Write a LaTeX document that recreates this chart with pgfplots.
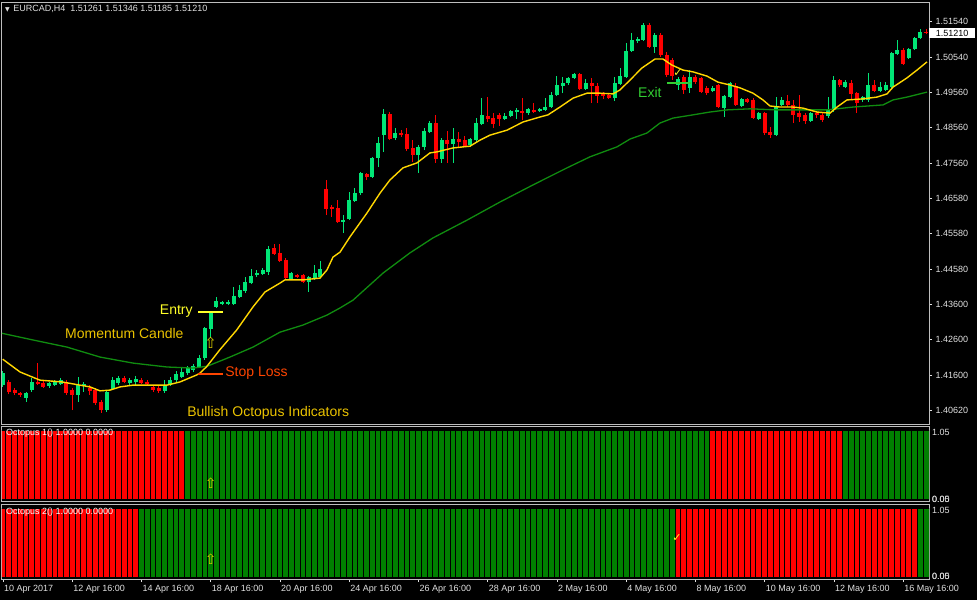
\documentclass[border=0pt]{standalone}
\usepackage{pgfplots}
\pgfplotsset{compat=1.18}
\usepackage{pgfplotstable}
\usepackage{fontspec}
\setmainfont{Liberation Sans}
\newfontfamily\dejavu{DejaVu Sans}

\definecolor{bull}{RGB}{0,230,118}
\definecolor{bear}{RGB}{255,0,0}
\definecolor{maf}{RGB}{255,215,0}
\definecolor{mas}{RGB}{16,140,16}
\definecolor{hgreen}{RGB}{0,128,0}
\definecolor{frame}{RGB}{190,190,190}
\definecolor{lbl}{RGB}{225,225,225}
\definecolor{gold}{RGB}{235,195,0}
\definecolor{entryc}{RGB}{255,255,40}
\definecolor{stopc}{RGB}{255,69,0}
\definecolor{exitc}{RGB}{50,205,50}
\definecolor{arrowc}{RGB}{215,200,0}

% EURCAD H4: bar index, open, high, low, close, Octopus 1 up/down, Octopus 2 up/down
\pgfplotstableread{
i o h l c u1 d1 u2 d2
0 1.4132 1.4172 1.4127 1.4166 0 1 0 1
1 1.4141 1.4146 1.4107 1.4113 0 1 0 1
2 1.4118 1.4124 1.4104 1.4110 0 1 0 1
3 1.4110 1.4113 1.4099 1.4104 0 1 0 1
4 1.4096 1.4113 1.4085 1.4110 0 1 0 1
5 1.4118 1.4152 1.4113 1.4141 0 1 0 1
6 1.4141 1.4194 1.4132 1.4135 0 1 0 1
7 1.4138 1.4146 1.4124 1.4127 0 1 0 1
8 1.4130 1.4141 1.4124 1.4138 0 1 0 1
9 1.4132 1.4146 1.4130 1.4141 0 1 0 1
10 1.4135 1.4152 1.4132 1.4146 0 1 0 1
11 1.4138 1.4146 1.4104 1.4110 0 1 0 1
12 1.4118 1.4124 1.4062 1.4104 0 1 0 1
13 1.4104 1.4155 1.4085 1.4132 0 1 0 1
14 1.4130 1.4141 1.4113 1.4135 0 1 0 1
15 1.4124 1.4132 1.4104 1.4116 0 1 0 1
16 1.4118 1.4124 1.4076 1.4082 0 1 0 1
17 1.4085 1.4090 1.4054 1.4062 0 1 0 1
18 1.4062 1.4118 1.4057 1.4113 0 1 0 1
19 1.4121 1.4155 1.4118 1.4146 0 1 0 1
20 1.4138 1.4158 1.4132 1.4152 0 1 0 1
21 1.4152 1.4158 1.4138 1.4141 0 1 0 1
22 1.4138 1.4152 1.4132 1.4146 0 1 0 1
23 1.4141 1.4158 1.4130 1.4149 0 1 0 1
24 1.4146 1.4152 1.4135 1.4138 0 1 1 0
25 1.4141 1.4146 1.4130 1.4135 0 1 1 0
26 1.4127 1.4132 1.4113 1.4118 0 1 1 0
27 1.4124 1.4130 1.4110 1.4116 0 1 1 0
28 1.4116 1.4146 1.4110 1.4130 0 1 1 0
29 1.4132 1.4155 1.4130 1.4146 0 1 1 0
30 1.4146 1.4172 1.4141 1.4163 0 1 1 0
31 1.4155 1.4180 1.4152 1.4169 0 1 1 0
32 1.4166 1.4186 1.4161 1.4180 1 0 1 0
33 1.4175 1.4191 1.4169 1.4186 1 0 1 0
34 1.4183 1.4217 1.4180 1.4208 1 0 1 0
35 1.4208 1.4295 1.4203 1.4293 1 0 1 0
36 1.4290 1.4338 1.4265 1.4335 1 0 1 0
37 1.4352 1.4380 1.4349 1.4369 1 0 1 0
38 1.4360 1.4369 1.4357 1.4366 1 0 1 0
39 1.4360 1.4371 1.4357 1.4366 1 0 1 0
40 1.4360 1.4408 1.4357 1.4383 1 0 1 0
41 1.4380 1.4414 1.4377 1.4400 1 0 1 0
42 1.4397 1.4436 1.4391 1.4422 1 0 1 0
43 1.4419 1.4459 1.4416 1.4439 1 0 1 0
44 1.4442 1.4456 1.4436 1.4447 1 0 1 0
45 1.4445 1.4461 1.4442 1.4456 1 0 1 0
46 1.4450 1.4523 1.4442 1.4515 1 0 1 0
47 1.4518 1.4529 1.4498 1.4501 1 0 1 0
48 1.4504 1.4529 1.4478 1.4481 1 0 1 0
49 1.4484 1.4490 1.4431 1.4433 1 0 1 0
50 1.4431 1.4450 1.4428 1.4447 1 0 1 0
51 1.4442 1.4445 1.4433 1.4436 1 0 1 0
52 1.4442 1.4445 1.4419 1.4422 1 0 1 0
53 1.4422 1.4439 1.4394 1.4436 1 0 1 0
54 1.4433 1.4470 1.4428 1.4447 1 0 1 0
55 1.4436 1.4481 1.4433 1.4459 1 0 1 0
56 1.4684 1.4709 1.4610 1.4627 1 0 1 0
57 1.4633 1.4639 1.4605 1.4627 1 0 1 0
58 1.4630 1.4653 1.4588 1.4591 1 0 1 0
59 1.4591 1.4610 1.4560 1.4596 1 0 1 0
60 1.4599 1.4675 1.4596 1.4653 1 0 1 0
61 1.4650 1.4686 1.4647 1.4672 1 0 1 0
62 1.4672 1.4731 1.4667 1.4729 1 0 1 0
63 1.4726 1.4729 1.4709 1.4717 1 0 1 0
64 1.4717 1.4774 1.4715 1.4771 1 0 1 0
65 1.4771 1.4830 1.4745 1.4813 1 0 1 0
66 1.4835 1.4909 1.4788 1.4894 1 0 1 0
67 1.4894 1.4900 1.4821 1.4824 1 0 1 0
68 1.4827 1.4855 1.4821 1.4841 1 0 1 0
69 1.4841 1.4849 1.4830 1.4835 1 0 1 0
70 1.4838 1.4855 1.4790 1.4796 1 0 1 0
71 1.4799 1.4821 1.4760 1.4779 1 0 1 0
72 1.4779 1.4807 1.4729 1.4802 1 0 1 0
73 1.4802 1.4855 1.4793 1.4847 1 0 1 0
74 1.4844 1.4875 1.4841 1.4869 1 0 1 0
75 1.4869 1.4892 1.4757 1.4768 1 0 1 0
76 1.4768 1.4827 1.4757 1.4821 1 0 1 0
77 1.4821 1.4847 1.4757 1.4810 1 0 1 0
78 1.4810 1.4855 1.4757 1.4824 1 0 1 0
79 1.4824 1.4844 1.4802 1.4816 1 0 1 0
80 1.4821 1.4833 1.4802 1.4804 1 0 1 0
81 1.4807 1.4827 1.4802 1.4824 1 0 1 0
82 1.4821 1.4883 1.4816 1.4869 1 0 1 0
83 1.4866 1.4939 1.4864 1.4892 1 0 1 0
84 1.4889 1.4942 1.4872 1.4880 1 0 1 0
85 1.4883 1.4897 1.4855 1.4866 1 0 1 0
86 1.4892 1.4897 1.4861 1.4880 1 0 1 0
87 1.4880 1.4897 1.4878 1.4889 1 0 1 0
88 1.4889 1.4906 1.4886 1.4903 1 0 1 0
89 1.4900 1.4911 1.4880 1.4906 1 0 1 0
90 1.4903 1.4939 1.4878 1.4897 1 0 1 0
91 1.4897 1.4911 1.4892 1.4909 1 0 1 0
92 1.4906 1.4925 1.4897 1.4900 1 0 1 0
93 1.4903 1.4911 1.4900 1.4909 1 0 1 0
94 1.4906 1.4939 1.4903 1.4914 1 0 1 0
95 1.4914 1.4956 1.4911 1.4948 1 0 1 0
96 1.4948 1.5001 1.4945 1.4976 1 0 1 0
97 1.4973 1.4998 1.4953 1.4982 1 0 1 0
98 1.4982 1.4998 1.4976 1.4996 1 0 1 0
99 1.4996 1.5010 1.4993 1.5007 1 0 1 0
100 1.5007 1.5010 1.4962 1.4965 1 0 1 0
101 1.4965 1.4993 1.4962 1.4982 1 0 1 0
102 1.4982 1.4996 1.4925 1.4973 1 0 1 0
103 1.4973 1.4982 1.4925 1.4945 1 0 1 0
104 1.4951 1.4956 1.4937 1.4945 1 0 1 0
105 1.4948 1.4953 1.4937 1.4939 1 0 1 0
106 1.4939 1.4998 1.4931 1.4982 1 0 1 0
107 1.4979 1.5024 1.4976 1.5001 1 0 1 0
108 1.4998 1.5094 1.4996 1.5072 1 0 1 0
109 1.5072 1.5122 1.5069 1.5103 1 0 1 0
110 1.5100 1.5111 1.5094 1.5105 1 0 1 0
111 1.5103 1.5150 1.5100 1.5145 1 0 1 0
112 1.5145 1.5150 1.5080 1.5083 1 0 1 0
113 1.5083 1.5122 1.5066 1.5117 1 0 1 0
114 1.5117 1.5122 1.5055 1.5060 1 0 1 0
115 1.5060 1.5069 1.4998 1.5004 1 0 1 0
116 1.5046 1.5052 1.4990 1.5001 1 0 1 0
117 1.4976 1.4998 1.4962 1.4993 1 0 0 1
118 1.4998 1.5004 1.4951 1.4962 1 0 0 1
119 1.4968 1.5018 1.4953 1.4998 1 0 0 1
120 1.4998 1.5004 1.4979 1.4984 1 0 0 1
121 1.4996 1.4998 1.4953 1.4956 1 0 0 1
122 1.4968 1.4973 1.4948 1.4953 1 0 0 1
123 1.4959 1.4973 1.4956 1.4968 0 1 0 1
124 1.4976 1.4979 1.4911 1.4914 0 1 0 1
125 1.4911 1.4948 1.4886 1.4945 0 1 0 1
126 1.4942 1.4984 1.4939 1.4982 0 1 0 1
127 1.4973 1.4982 1.4917 1.4920 0 1 0 1
128 1.4917 1.4939 1.4914 1.4937 0 1 0 1
129 1.4937 1.4939 1.4925 1.4928 0 1 0 1
130 1.4934 1.4939 1.4880 1.4883 0 1 0 1
131 1.4880 1.4900 1.4878 1.4897 0 1 0 1
132 1.4897 1.4900 1.4835 1.4841 0 1 0 1
133 1.4844 1.4858 1.4827 1.4835 0 1 0 1
134 1.4835 1.4942 1.4833 1.4917 0 1 0 1
135 1.4920 1.4942 1.4917 1.4934 0 1 0 1
136 1.4931 1.4948 1.4914 1.4920 0 1 0 1
137 1.4920 1.4934 1.4869 1.4892 0 1 0 1
138 1.4897 1.4948 1.4872 1.4886 0 1 0 1
139 1.4892 1.4897 1.4866 1.4875 0 1 0 1
140 1.4875 1.4900 1.4872 1.4897 0 1 0 1
141 1.4897 1.4900 1.4883 1.4892 0 1 0 1
142 1.4892 1.4897 1.4872 1.4878 0 1 0 1
143 1.4889 1.4942 1.4883 1.4906 0 1 0 1
144 1.4906 1.5001 1.4900 1.4990 0 1 0 1
145 1.4990 1.4993 1.4970 1.4976 0 1 0 1
146 1.4970 1.4990 1.4968 1.4984 1 0 0 1
147 1.4982 1.4990 1.4934 1.4951 1 0 0 1
148 1.4953 1.4956 1.4897 1.4925 1 0 0 1
149 1.4934 1.4945 1.4928 1.4942 1 0 0 1
150 1.4934 1.5010 1.4928 1.4976 1 0 0 1
151 1.4976 1.4990 1.4956 1.4959 1 0 0 1
152 1.4959 1.4984 1.4956 1.4970 1 0 0 1
153 1.4962 1.4984 1.4959 1.4976 1 0 0 1
154 1.4970 1.5069 1.4968 1.5066 1 0 0 1
155 1.5063 1.5103 1.5060 1.5074 1 0 0 1
156 1.5074 1.5080 1.5032 1.5035 1 0 0 1
157 1.5052 1.5080 1.5049 1.5077 1 0 0 1
158 1.5077 1.5111 1.5074 1.5108 1 0 0 1
159 1.5108 1.5133 1.5105 1.5126 1 0 1 0
160 1.51261 1.51346 1.51185 1.51210 1 0 1 0
}\bars

\pgfplotsset{
  mt4/.style={
    scale only axis, width=927pt,
    xmin=-0.173, xmax=160.49,
    axis line style={frame, line width=1pt},
    tick style={lbl, line width=0.6pt},
    ticklabel style={font=\fontsize{9}{10}\selectfont, text=lbl},
    axis background/.style={fill=black},
  },
  histbar/.style={ybar, bar width=1, bar shift=0pt, draw=black, line width=1pt,
    restrict y to domain=0.5:2},
}

\begin{document}
\begin{tikzpicture}
\fill[black] (0,0) rectangle (977pt,-600pt);

% main price window
\begin{axis}[mt4, name=main, at={(2pt,-2pt)}, anchor=north west, height=422pt,
  ymin=1.40227, ymax=1.52094,
  xtick=\empty,
  ytick={1.5154,1.5054,1.4956,1.4856,1.4756,1.4658,1.4558,1.4458,1.4360,1.4260,1.4160,1.4062},
  ytick pos=right, yticklabel pos=right, tick align=outside, major tick length=3pt,
  scaled y ticks=false,
  yticklabel style={/pgf/number format/.cd, fixed, fixed zerofill, precision=5, assume math mode=true},
]
% wicks
\addplot[draw=bull, line width=1pt, quiver={u=0, v=\thisrow{h}-\thisrow{l}},
  restrict expr to domain={\thisrow{c}-\thisrow{o}}{0:1}] table[x=i, y=l] {\bars};
\addplot[draw=bear, line width=1pt, quiver={u=0, v=\thisrow{h}-\thisrow{l}},
  restrict expr to domain={\thisrow{c}-\thisrow{o}}{-1:0}] table[x=i, y=l] {\bars};
% bodies
\addplot[draw=bull, line width=4pt, quiver={u=0, v=\thisrow{c}-\thisrow{o}},
  restrict expr to domain={\thisrow{c}-\thisrow{o}}{0:1}] table[x=i, y=o] {\bars};
\addplot[draw=bear, line width=4pt, quiver={u=0, v=\thisrow{c}-\thisrow{o}},
  restrict expr to domain={\thisrow{c}-\thisrow{o}}{-1:0}] table[x=i, y=o] {\bars};

% slow moving average
\addplot[mas, line width=1.3pt] coordinates {
(-0.52,1.4279)(5.20,1.4259)(11.09,1.4239)(16.81,1.4211)(22.53,1.4194)(28.42,1.4183)
(32.93,1.4180)(35.36,1.4185)(39.34,1.4211)(43.33,1.4239)(48.01,1.4281)(51.99,1.4301)
(56.15,1.4329)(58.41,1.4349)(60.66,1.4371)(65.86,1.4447)(70.54,1.4504)(74.52,1.4546)
(80.42,1.4596)(86.14,1.4647)(91.85,1.4695)(97.75,1.4743)(101.73,1.4774)(106.41,1.4802)
(108.67,1.4824)(111.61,1.4841)(113.86,1.4869)(116.12,1.4883)(119.58,1.4892)(122.53,1.4900)
(125.48,1.4906)(129.46,1.4909)(134.14,1.4906)(138.13,1.4906)(142.81,1.4906)(147.31,1.4914)
(152.51,1.4920)(154.25,1.4934)(156.67,1.4942)(160.14,1.4956)};
% fast moving average
\addplot[maf, line width=1.4pt] coordinates {
(-0.05,1.4205)(2.95,1.4169)(6.41,1.4146)(10.23,1.4141)(13.34,1.4132)(15.08,1.4127)
(16.81,1.4116)(18.54,1.4118)(20.28,1.4127)(22.53,1.4132)(25.48,1.4132)(28.42,1.4132)
(30.68,1.4141)(33.62,1.4161)(34.14,1.4166)(35.30,1.4184)(37.56,1.4231)(40.50,1.4287)
(43.33,1.4352)(45.41,1.4394)(48.01,1.4419)(48.87,1.4428)(51.99,1.4428)(54.94,1.4433)
(56.15,1.4456)(57.19,1.4492)(58.41,1.4506)(60.14,1.4549)(63.08,1.4616)(65.34,1.4672)
(67.07,1.4709)(69.32,1.4743)(71.75,1.4757)(74.00,1.4785)(75.22,1.4788)(77.99,1.4799)
(80.94,1.4804)(82.67,1.4821)(84.40,1.4835)(87.35,1.4849)(90.12,1.4872)(93.07,1.4886)
(94.45,1.4892)(96.53,1.4914)(98.79,1.4939)(101.21,1.4953)(103.47,1.4953)(105.72,1.4951)
(106.93,1.4962)(108.67,1.4990)(110.75,1.5024)(113.00,1.5049)(114.38,1.5049)(115.94,1.5032)
(117.85,1.5018)(119.58,1.5013)(122.01,1.5001)(123.92,1.4984)(126.00,1.4976)(127.73,1.4968)
(129.98,1.4953)(131.72,1.4934)(132.93,1.4917)(134.66,1.4914)(136.92,1.4914)(138.65,1.4911)
(141.07,1.4900)(143.33,1.4897)(144.54,1.4914)(146.27,1.4934)(149.05,1.4937)(151.47,1.4942)
(153.21,1.4951)(154.25,1.4970)(156.67,1.4996)(158.41,1.5018)(160.14,1.5041)};

% entry, stop loss and exit levels
\addplot[entryc, line width=2pt] coordinates {(33.8,1.4338)(38.1,1.4338)};
\addplot[stopc, line width=2pt] coordinates {(33.8,1.4163)(38.1,1.4163)};
\addplot[exitc, line width=2pt] coordinates {(115.1,1.4982)(119.2,1.4982)};

\node[anchor=west, text=lbl, font=\fontsize{9}{10}\selectfont, inner sep=0pt]
  at (axis cs:0.35,1.5190) {{\dejavu\fontsize{6}{6}\selectfont ▼}\hspace{3.5pt}EURCAD,H4\hspace{5pt}1.51261 1.51346 1.51185 1.51210};
\node[anchor=east, text=entryc, font=\fontsize{14}{16}\selectfont, inner sep=0pt] at (axis cs:32.9,1.4340) {Entry};
\node[anchor=west, text=gold, font=\fontsize{14}{16}\selectfont, inner sep=0pt] at (axis cs:10.75,1.4276) {Momentum Candle};
\node[anchor=west, text=stopc, font=\fontsize{14}{16}\selectfont, inner sep=0pt] at (axis cs:38.5,1.4166) {Stop Loss};
\node[anchor=west, text=gold, font=\fontsize{14}{16}\selectfont, inner sep=0pt] at (axis cs:31.9,1.4055) {Bullish Octopus Indicators};
\node[anchor=west, text=exitc, font=\fontsize{14}{16}\selectfont, inner sep=0pt] at (axis cs:110.05,1.4956) {Exit};
\node[text=arrowc, font=\dejavu\fontsize{15}{15}\selectfont, inner sep=0pt] at (axis cs:36.0,1.4250) {⇧};
\node[text=entryc, font=\dejavu\fontsize{11}{11}\selectfont, inner sep=0pt] at (axis cs:117.0,1.5010) {✓};
\coordinate (last) at (axis cs:160.49,1.5121);
\end{axis}

% Octopus 1 window
\begin{axis}[mt4, name=p1, at={(2pt,-426pt)}, anchor=north west, height=75pt,
  ymin=-0.029, ymax=1.058, xtick=\empty, ytick=\empty]
\addplot[histbar, fill=hgreen] table[x=i, y=u1] {\bars};
\addplot[histbar, fill=bear] table[x=i, y=d1] {\bars};
\node[anchor=west, text=white, font=\fontsize{9}{10}\selectfont, inner sep=0pt] at (axis cs:0.52,0.957) {Octopus 1() 1.0000 0.0000};
\node[text=arrowc, font=\dejavu\fontsize{14}{14}\selectfont, inner sep=0pt] at (axis cs:36.0,0.232) {⇧};
\end{axis}

% Octopus 2 window
\begin{axis}[mt4, name=p2, at={(2pt,-504pt)}, anchor=north west, height=75pt,
  ymin=-0.029, ymax=1.058, ytick=\empty,
  xtick={0,12,...,156},
  xticklabels={10 Apr 2017, 12 Apr 16:00, 14 Apr 16:00, 18 Apr 16:00, 20 Apr 16:00,
    24 Apr 16:00, 26 Apr 16:00, 28 Apr 16:00, 2 May 16:00, 4 May 16:00,
    8 May 16:00, 10 May 16:00, 12 May 16:00, 16 May 16:00},
  xtick pos=bottom, tick align=outside, major tick length=3pt,
  xticklabel style={anchor=north west, inner xsep=1pt, inner ysep=3.5pt},
]
\addplot[histbar, fill=hgreen] table[x=i, y=u2] {\bars};
\addplot[histbar, fill=bear] table[x=i, y=d2] {\bars};
\node[anchor=west, text=white, font=\fontsize{9}{10}\selectfont, inner sep=0pt] at (axis cs:0.52,0.942) {Octopus 2() 1.0000 0.0000};
\node[text=arrowc, font=\dejavu\fontsize{14}{14}\selectfont, inner sep=0pt] at (axis cs:36.0,0.261) {⇧};
\node[text=entryc, font=\dejavu\fontsize{11}{11}\selectfont, inner sep=0pt] at (axis cs:116.8,0.565) {✓};
\end{axis}

% right-hand labels
\node[anchor=west, fill=white, text=black, inner sep=1pt, minimum width=46pt, minimum height=10pt,
  font=\fontsize{9}{10}\selectfont] at (last) {1.51210};
\begin{scope}[every node/.style={anchor=west, text=lbl, inner sep=0pt, font=\fontsize{9}{10}\selectfont}]
\node at ([xshift=3pt, yshift=-6pt]p1.north east) {1.05};
\node at ([xshift=3pt, yshift=2pt]p1.south east) {\rlap{0.00}0.05};
\node at ([xshift=3pt, yshift=-6.7pt]p2.north east) {1.05};
\node at ([xshift=3pt, yshift=3pt]p2.south east) {\rlap{0.00}0.05};
\end{scope}

\pgfresetboundingbox
\path (0,0) rectangle (977pt,-600pt);
\end{tikzpicture}
\end{document}
